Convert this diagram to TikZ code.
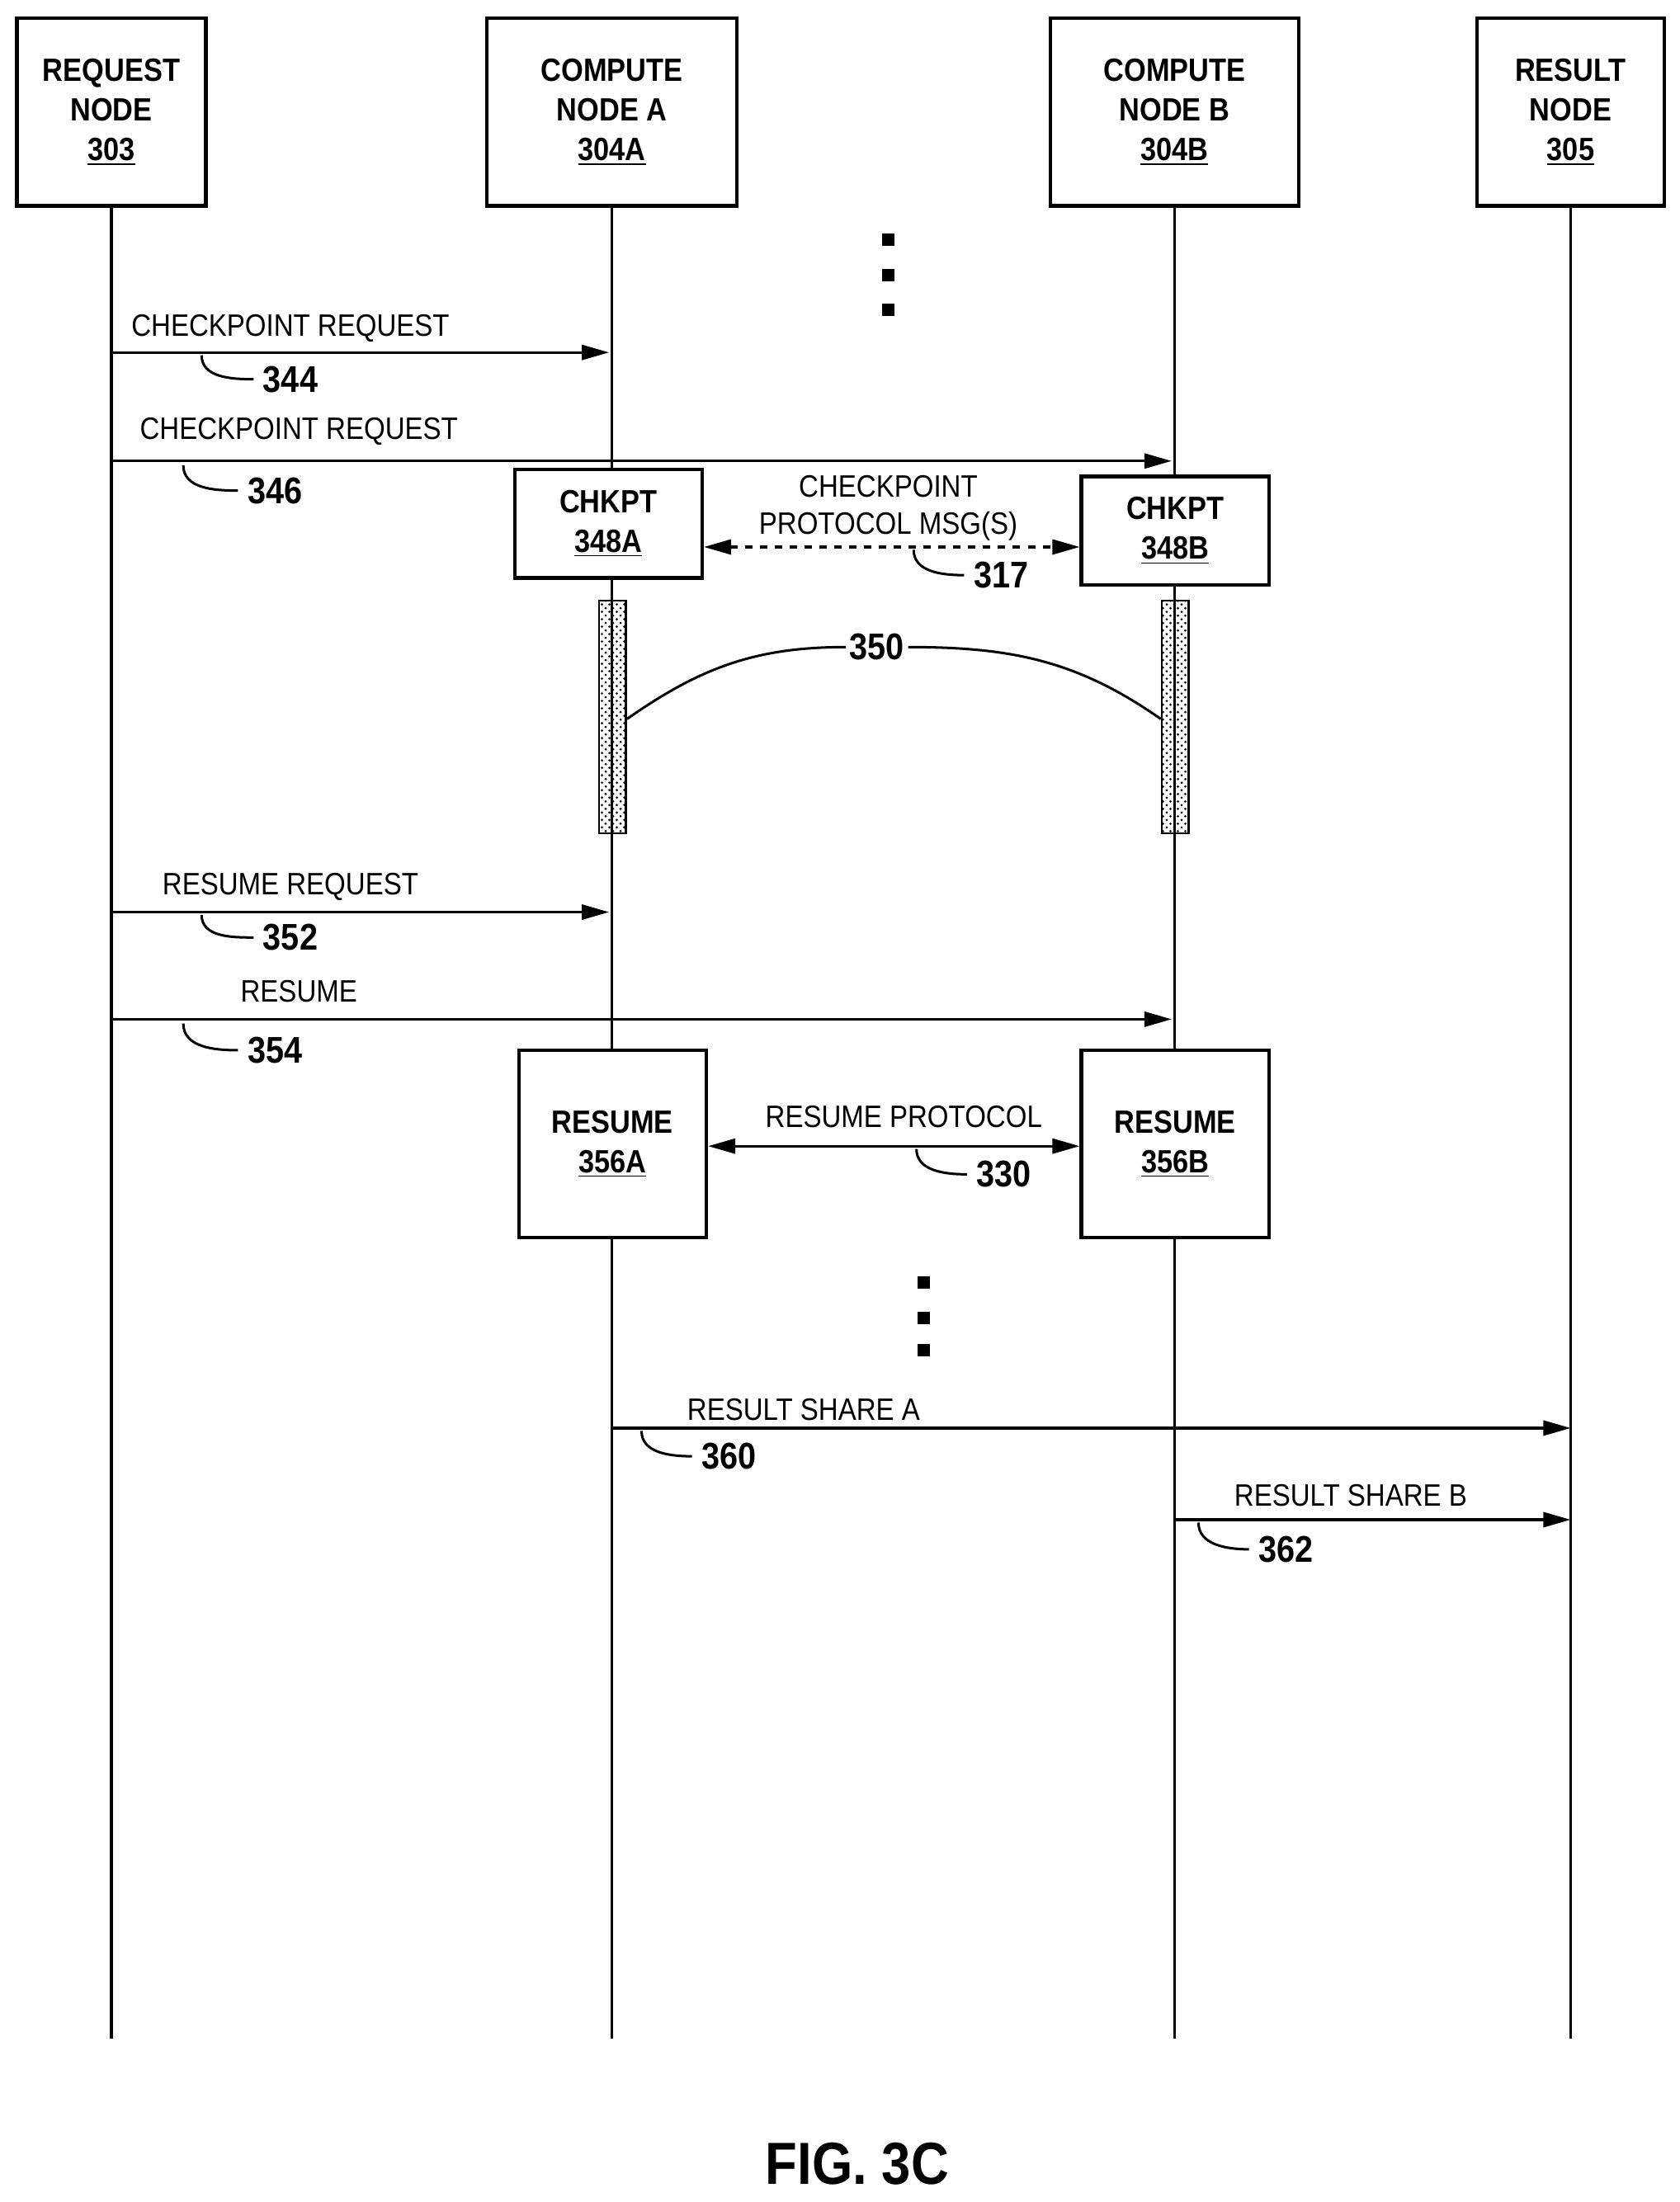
\documentclass[tikz,border=0pt]{standalone}
\usepackage{fontspec}
\setmainfont[FakeStretch=0.88]{Liberation Sans}
\usetikzlibrary{arrows.meta,patterns}
\begin{document}
\begin{tikzpicture}[x=0.02cm,y=-0.02cm,
  line width=1.1pt,
  box/.style={draw,line width=1.4pt,fill=white,align=center,font=\bfseries\fontsize{13}{16}\selectfont},
  lbl/.style={font=\fontsize{12.5}{15}\selectfont,align=center},
  num/.style={font=\bfseries\fontsize{15}{18}\selectfont},
  arr/.style={-{Triangle[length=11pt,width=6pt]}},
  darr/.style={{Triangle[length=11pt,width=6pt]}-{Triangle[length=11pt,width=6pt]}},
  hook/.style={line width=1pt},
  dot/.style={fill,inner sep=0,minimum size=5pt}]
\useasboundingbox (0,0) rectangle (1191,1562);
% lifelines
\coordinate (lr) at (79,1446); \coordinate (la) at (434,1446);
\coordinate (lb) at (833,1446); \coordinate (lz) at (1114,1446);
\node[box,minimum width=134*0.02cm,minimum height=133*0.02cm] (req) at (79,79.5) {REQUEST\\NODE\\\underline{303}};
\node[box,minimum width=177*0.02cm,minimum height=133*0.02cm] (ca) at (434,79.5) {COMPUTE\\NODE A\\\underline{304A}};
\node[box,minimum width=176*0.02cm,minimum height=133*0.02cm] (cb) at (833,79.5) {COMPUTE\\NODE B\\\underline{304B}};
\node[box,minimum width=133*0.02cm,minimum height=133*0.02cm] (res) at (1114,79.5) {RESULT\\NODE\\\underline{305}};
\draw (req.south) -- (lr); \draw (ca.south) -- (la);
\draw (cb.south) -- (lb); \draw (res.south) -- (lz);
% dots
\foreach \y [count=\i] in {170,195,220} \node[dot] (d\i) at (630,\y) {};
\foreach \y [count=\i] in {910,935,958} \node[dot] (e\i) at (655,\y) {};
% 344
\coordinate (s344) at (79,250); \coordinate (t344) at (432,250);
\draw[arr] (s344) -- (t344);
\node[lbl] (l344) at (206,233) {CHECKPOINT REQUEST};
\node[num] (n344) at (206,269) {344};
\draw[hook] (143,252) to[out=-90,in=180] (n344.west);
% 346
\coordinate (s346) at (79,327); \coordinate (t346) at (831,327);
\draw[arr] (s346) -- (t346);
\node[lbl] (l346) at (212,306) {CHECKPOINT REQUEST};
\node[num] (n346) at (195,348) {346};
\draw[hook] (130,330) to[out=-90,in=180] (n346.west);
% chkpt boxes
\node[box,minimum width=133*0.02cm,minimum height=77*0.02cm] (k1) at (431.5,371.5) {CHKPT\\\underline{348A}};
\node[box,minimum width=133*0.02cm,minimum height=77*0.02cm] (k2) at (833.5,376.5) {CHKPT\\\underline{348B}};
\draw[darr,dashed] (k1.east|-0,388) -- (k2.west|-0,388);
\node[lbl] (l317a) at (630,345) {CHECKPOINT};
\node[lbl] (l317b) at (630,373) {PROTOCOL MSG(S)};
\node[num] (n317) at (710,408) {317};
\draw[hook] (648,390) to[out=-90,in=180] (n317.west);
% hatched bars
\node[draw,line width=0.8pt,pattern=crosshatch dots,minimum width=19*0.02cm,minimum height=165*0.02cm,inner sep=0] (h1) at (434.5,508.5) {};
\node[draw,line width=0.8pt,pattern=crosshatch dots,minimum width=19*0.02cm,minimum height=165*0.02cm,inner sep=0] (h2) at (833.5,508.5) {};
\node[num,fill=white,inner sep=1pt] (n350) at (622,459) {350};
\draw[hook] (h1.east|-0,510) to[out=35,in=180] (n350.west);
\draw[hook] (h2.west|-0,510) to[out=145,in=0] (n350.east);
% 352
\coordinate (s352) at (79,647); \coordinate (t352) at (432,647);
\draw[arr] (s352) -- (t352);
\node[lbl] (l352) at (206,629) {RESUME REQUEST};
\node[num] (n352) at (206,665) {352};
\draw[hook] (143,649) to[out=-90,in=180] (n352.west);
% 354
\coordinate (s354) at (79,723); \coordinate (t354) at (831,723);
\draw[arr] (s354) -- (t354);
\node[lbl] (l354) at (212,703) {RESUME};
\node[num] (n354) at (195,745) {354};
\draw[hook] (130,726) to[out=-90,in=180] (n354.west);
% resume boxes
\node[box,minimum width=133*0.02cm,minimum height=133*0.02cm] (r1) at (434.5,811.5) {RESUME\\\underline{356A}};
\node[box,minimum width=133*0.02cm,minimum height=133*0.02cm] (r2) at (833.5,811.5) {RESUME\\\underline{356B}};
\draw[darr] (r1.east|-0,813) -- (r2.west|-0,813);
\node[lbl] (l330) at (641,792) {RESUME PROTOCOL};
\node[num] (n330) at (712,833) {330};
\draw[hook] (650,815) to[out=-90,in=180] (n330.west);
% 360
\coordinate (s360) at (434,1013); \coordinate (t360) at (1114,1013);
\draw[arr] (s360) -- (t360);
\node[lbl] (l360) at (570,1000) {RESULT SHARE A};
\node[num] (n360) at (517,1033) {360};
\draw[hook] (455,1015) to[out=-90,in=180] (n360.west);
% 362
\coordinate (s362) at (833,1078); \coordinate (t362) at (1114,1078);
\draw[arr] (s362) -- (t362);
\node[lbl] (l362) at (958,1061) {RESULT SHARE B};
\node[num] (n362) at (912,1099) {362};
\draw[hook] (850,1080) to[out=-90,in=180] (n362.west);
\node[font=\bfseries\fontsize{24}{28}\selectfont] (fig) at (608,1535) {FIG. 3C};
\end{tikzpicture}
\end{document}
